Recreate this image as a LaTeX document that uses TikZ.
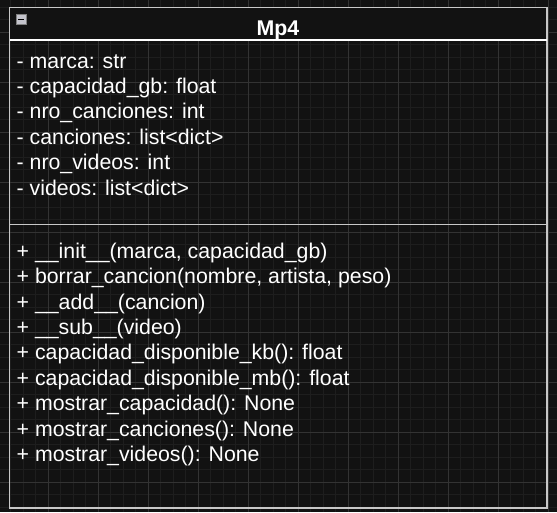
\documentclass[tikz,border=0pt]{standalone}
\usepackage{fontspec}
\setmainfont{Liberation Sans}
\definecolor{bgc}{HTML}{121212}
\definecolor{gridminor}{HTML}{1E1E1E}
\definecolor{gridmajor}{HTML}{333333}
\definecolor{boxline}{HTML}{C8C8C8}
\definecolor{iconfill}{HTML}{C4C4CC}
\tikzset{
  member/.style={anchor=base west, inner sep=0pt, text=white, font=\fontsize{21.3}{24}\selectfont},
  titletext/.style={anchor=base, inner sep=0pt, text=white, font=\fontsize{21.3}{24}\selectfont\bfseries},
}
\begin{document}
\begin{tikzpicture}[x=1pt,y=-1pt]
\useasboundingbox (0,0) rectangle (557,512);
\fill[bgc] (0,0) rectangle (557,512);
% grid
\foreach \gx in {10.5,23,...,557} \draw[gridminor, line width=1pt] (\gx,0) -- (\gx,512);
\foreach \gy in {7,19.5,...,512} \draw[gridminor, line width=1pt] (0,\gy) -- (557,\gy);
\foreach \gx in {48,98,...,557} \draw[gridmajor, line width=1pt] (\gx,0) -- (\gx,512);
\foreach \gy in {32,82,...,512} \draw[gridmajor, line width=1pt] (0,\gy) -- (557,\gy);
% class box
\fill[bgc] (9.5,7.5) rectangle (547,40);
\draw[boxline, line width=1.6pt] (9.5,7.5) rectangle (547,508);
\draw[white, line width=1.3pt] (9.5,40) -- (547,40);
\draw[boxline, line width=1.3pt] (9.5,224.5) -- (547,224.5);
% collapse icon
\node[draw=gray, fill=iconfill, minimum size=10pt, inner sep=0pt, line width=0.8pt] (icon) at (21.3,19.3) {};
\draw[black, line width=1.3pt] ([xshift=-3pt]icon.center) -- ([xshift=3pt]icon.center);
% title
\node[titletext] (title) at (278,35.5) {Mp4};
% attributes
\node[member] (a1) at (16.5,68) {- marca: str};
\node[member] (a2) at (16.5,93.4) {- capacidad\_gb: float};
\node[member] (a3) at (16.5,118.8) {- nro\_canciones: int};
\node[member] (a4) at (16.5,144.2) {- canciones: list<dict>};
\node[member] (a5) at (16.5,169.6) {- nro\_videos: int};
\node[member] (a6) at (16.5,195) {- videos: list<dict>};
% methods
\node[member] (m1) at (16.5,258) {+ \_\_init\_\_(marca, capacidad\_gb)};
\node[member] (m2) at (16.5,283.5) {+ borrar\_cancion(nombre, artista, peso)};
\node[member] (m3) at (16.5,309) {+ \_\_add\_\_(cancion)};
\node[member] (m4) at (16.5,334.4) {+ \_\_sub\_\_(video)};
\node[member] (m5) at (16.5,359.9) {+ capacidad\_disponible\_kb(): float};
\node[member] (m6) at (16.5,385.3) {+ capacidad\_disponible\_mb(): float};
\node[member] (m7) at (16.5,410.8) {+ mostrar\_capacidad(): None};
\node[member] (m8) at (16.5,436.2) {+ mostrar\_canciones(): None};
\node[member] (m9) at (16.5,461.7) {+ mostrar\_videos(): None};
\end{tikzpicture}
\end{document}
